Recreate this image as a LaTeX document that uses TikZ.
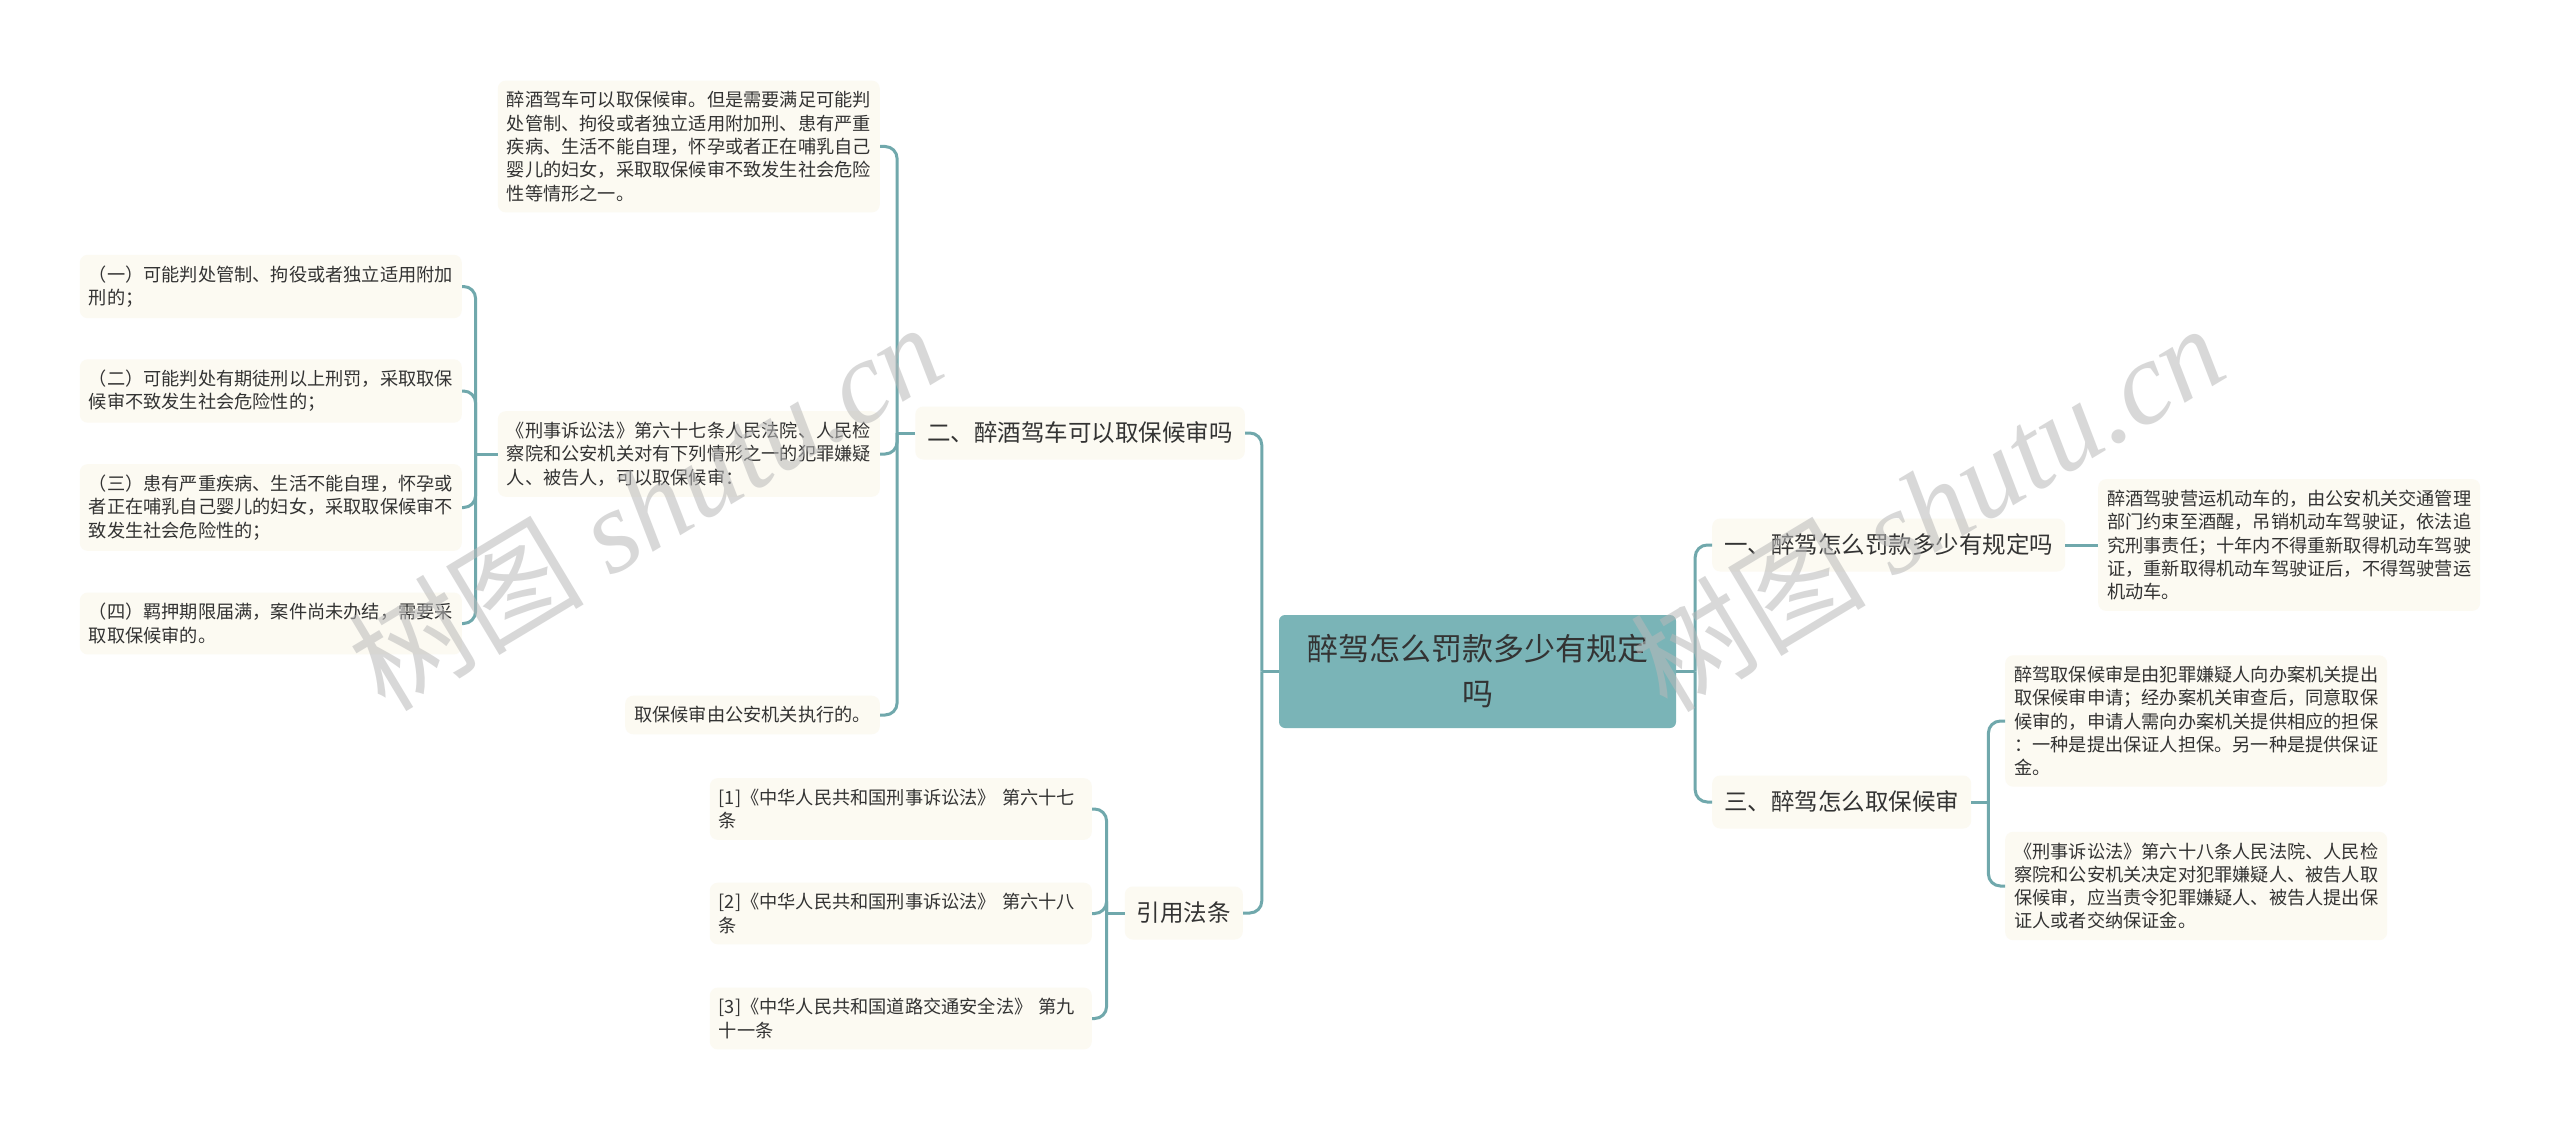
\documentclass[tikz,border=0pt]{standalone}
\usepackage{fontspec}
\setmainfont{Noto Sans CJK SC}
\newfontfamily\wmlatin{Liberation Serif}
\usepackage{xcolor}
\definecolor{mmteal}{RGB}{112,168,172}
\definecolor{mmroot}{RGB}{122,180,183}
\definecolor{mmcream}{RGB}{252,250,242}
\definecolor{mmtext}{RGB}{51,51,51}
\definecolor{mmmark}{RGB}{185,185,185}
\usetikzlibrary{positioning}

\begin{document}
\begin{tikzpicture}[x=1pt, y=-1pt,
  link/.style={draw=mmteal, line width=3pt},
  elbow/.style={link, rounded corners=12pt},
  leafbase/.style={fill=mmcream, rounded corners=8pt, text=mmtext, align=left, inner xsep=9pt, inner ysep=10.8pt, font=\fontsize{18.2}{23.3}\selectfont},
  leaf/.style={leafbase, text width=364pt},
  topic/.style={fill=mmcream, rounded corners=8pt, text=mmtext, inner xsep=12pt, minimum height=53pt, font=\fontsize{23.5}{28}\selectfont},
  root/.style={fill=mmroot, rounded corners=6pt, text=mmtext, align=center, minimum width=397pt, minimum height=113pt, font=\fontsize{31}{45}\selectfont},
  wmark/.style={text=mmmark, opacity=0.55, font=\fontsize{118}{118}\selectfont}]
  \fill[white] (0,0) rectangle (2560,1129);
  \useasboundingbox (0,0) rectangle (2560,1129);

  %--- root ---
  \node[root] (root) at (1477.5,671.5) {醉驾怎么罚款多少有规定\\吗};

  %--- left: bail for drunk driving ---
  \node[topic, anchor=east] (drink) at (1245,433) {二、醉酒驾车可以取保候审吗};
  \node[leaf, anchor=east] (drinkA) at (880,146.5) {醉酒驾车可以取保候审。但是需要满足可能判\\处管制、拘役或者独立适用附加刑、患有严重\\疾病、生活不能自理，怀孕或者正在哺乳自己\\婴儿的妇女，采取取保候审不致发生社会危险\\性等情形之一。};
  \node[leaf, anchor=east] (drinkB) at (880,454) {《刑事诉讼法》第六十七条人民法院、人民检\\察院和公安机关对有下列情形之一的犯罪嫌疑\\人、被告人，可以取保候审：};
  \node[leafbase, anchor=east] (drinkC) at (880,715) {取保候审由公安机关执行的。};

  \node[leaf, anchor=east] (caseA) at (462,286.5) {（一）可能判处管制、拘役或者独立适用附加\\刑的；};
  \node[leaf, anchor=east] (caseB) at (462,391) {（二）可能判处有期徒刑以上刑罚，采取取保\\候审不致发生社会危险性的；};
  \node[leaf, anchor=east] (caseC) at (462,507.5) {（三）患有严重疾病、生活不能自理，怀孕或\\者正在哺乳自己婴儿的妇女，采取取保候审不\\致发生社会危险性的；};
  \node[leaf, anchor=east] (caseD) at (462,623.5) {（四）羁押期限届满，案件尚未办结，需要采\\取取保候审的。};

  %--- left: cited laws ---
  \node[topic, anchor=east] (cite) at (1243,913) {引用法条};
  \node[leaf, anchor=east] (citeA) at (1092,809) {{}[1]《中华人民共和国刑事诉讼法》~第六十七\\条};
  \node[leaf, anchor=east] (citeB) at (1092,913.5) {{}[2]《中华人民共和国刑事诉讼法》~第六十八\\条};
  \node[leaf, anchor=east] (citeC) at (1092,1018.5) {{}[3]《中华人民共和国道路交通安全法》~第九\\十一条};

  %--- right ---
  \node[topic, anchor=west] (fine) at (1712,545) {一、醉驾怎么罚款多少有规定吗};
  \node[leaf, anchor=west] (fineA) at (2098,545) {醉酒驾驶营运机动车的，由公安机关交通管理\\部门约束至酒醒，吊销机动车驾驶证，依法追\\究刑事责任；十年内不得重新取得机动车驾驶\\证，重新取得机动车驾驶证后，不得驾驶营运\\机动车。};

  \node[topic, anchor=west] (bail) at (1712,802) {三、醉驾怎么取保候审};
  \node[leaf, anchor=west] (bailA) at (2005,721) {醉驾取保候审是由犯罪嫌疑人向办案机关提出\\取保候审申请；经办案机关审查后，同意取保\\候审的，申请人需向办案机关提供相应的担保\\：一种是提出保证人担保。另一种是提供保证\\金。};
  \node[leaf, anchor=west] (bailB) at (2005,886) {《刑事诉讼法》第六十八条人民法院、人民检\\察院和公安机关决定对犯罪嫌疑人、被告人取\\保候审，应当责令犯罪嫌疑人、被告人提出保\\证人或者交纳保证金。};

  %--- links ---
  \coordinate (rootL) at ([xshift=-17pt]root.west);
  \coordinate (rootR) at ([xshift=19pt]root.east);
  \draw[link] (root.west) -- (rootL);
  \draw[link] (root.east) -- (rootR);
  \draw[elbow] (rootL) |- (drink.east);
  \draw[elbow] (rootL) |- (cite.east);
  \draw[elbow] (rootR) |- (fine.west);
  \draw[elbow] (rootR) |- (bail.west);

  \coordinate (drinkJ) at ([xshift=-18pt]drink.west);
  \draw[link] (drink.west) -- (drinkJ);
  \foreach \c in {drinkA,drinkB,drinkC}
    \draw[elbow] (drinkJ) |- (\c.east);

  \coordinate (drinkBJ) at ([xshift=-22pt]drinkB.west);
  \draw[link] (drinkB.west) -- (drinkBJ);
  \foreach \c in {caseA,caseB,caseC,caseD}
    \draw[elbow] (drinkBJ) |- (\c.east);

  \coordinate (citeJ) at ([xshift=-18pt]cite.west);
  \draw[link] (cite.west) -- (citeJ);
  \foreach \c in {citeA,citeB,citeC}
    \draw[elbow] (citeJ) |- (\c.east);

  \draw[link] (fine.east) -- (fineA.west);

  \coordinate (bailJ) at ([xshift=17pt]bail.east);
  \draw[link] (bail.east) -- (bailJ);
  \foreach \c in {bailA,bailB}
    \draw[elbow] (bailJ) |- (\c.west);

  %--- watermarks ---
  \node[wmark, rotate=31] (wmL) at (645,505) {树图 {\wmlatin\itshape shutu.cn}};
  \node[wmark, rotate=31] (wmR) at (1927,506) {树图 {\wmlatin\itshape shutu.cn}};
\end{tikzpicture}
\end{document}
